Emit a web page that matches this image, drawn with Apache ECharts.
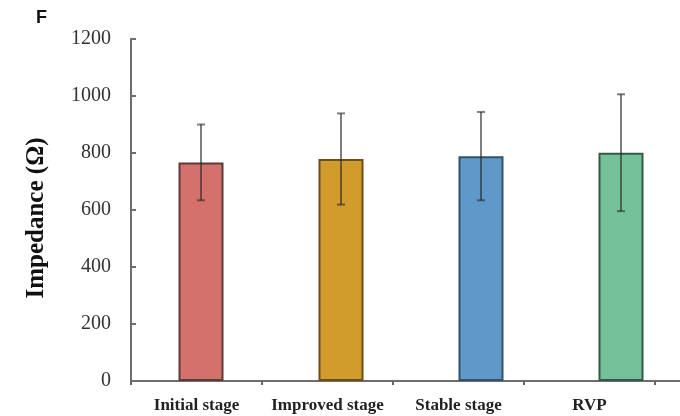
<!DOCTYPE html>
<html>
<head>
<meta charset="utf-8">
<script src="https://cdn.jsdelivr.net/npm/echarts@6/dist/echarts.min.js"></script>
<style>
  html, body { margin: 0; padding: 0; background: #fff; }
  #chart { width: 680px; height: 416px; }
</style>
</head>
<body>
<div id="chart"></div>
<script>
// Impedance by stage: mean with ± error
const categories = ['Initial stage', 'Improved stage', 'Stable stage', 'RVP'];
const impedanceMean = [767, 779, 789, 801];
const impedanceErr = [133, 160, 155, 205];
const barColors = ['#d5716c', '#d29c2c', '#5f99c9', '#75c197'];
const barBorders = ['#5c3a36', '#6a4e1c', '#34506a', '#345a46'];
const yTicks = { min: 0, max: 1200, interval: 200 };

const serif = '"Liberation Serif", "Times New Roman", serif';

const barData = impedanceMean.map((v, i) => ({
  value: v,
  itemStyle: { color: barColors[i], borderColor: barBorders[i], borderWidth: 2 }
}));
const errData = impedanceMean.map((v, i) => [i, v - impedanceErr[i], v + impedanceErr[i]]);

const chart = echarts.init(document.getElementById('chart'), null, { renderer: 'canvas' });
chart.setOption({
  animation: false,
  backgroundColor: '#ffffff',
  graphic: [{
    type: 'text', left: 36, top: 9,
    style: { text: 'F', font: 'bold 18px "Liberation Sans", Arial, sans-serif', fill: '#111' }
  }],
  grid: [
    { left: 131, top: 39, bottom: 35, width: 524, outerBoundsMode: 'none' },
    { left: 131, top: 39, bottom: 35, width: 560, outerBoundsMode: 'none' }
  ],
  xAxis: [
    {
      type: 'category', gridIndex: 0, data: categories,
      axisLine: { show: false },
      axisTick: { show: true, interval: 0, length: 4, lineStyle: { color: '#666', width: 2 } },
      axisLabel: { interval: 0, hideOverlap: false, color: '#222', fontFamily: serif, fontWeight: 'bold', fontSize: 17, margin: 16 }
    },
    {
      type: 'category', gridIndex: 1, data: categories,
      axisLine: { show: true, lineStyle: { color: '#6e6e6e', width: 2 } },
      axisTick: { show: false },
      axisLabel: { show: false }
    }
  ],
  yAxis: [
    {
      type: 'value', gridIndex: 1, min: yTicks.min, max: yTicks.max, interval: yTicks.interval,
      name: 'Impedance (Ω)', nameLocation: 'middle', nameGap: 82,
      nameTextStyle: { color: '#111', fontFamily: serif, fontWeight: 'bold', fontSize: 25, padding: [0, 16, 0, 0] },
      axisLine: { show: true, lineStyle: { color: '#6e6e6e', width: 2 } },
      axisTick: { show: true, inside: true, length: 5, lineStyle: { color: '#6e6e6e', width: 2 } },
      axisLabel: { color: '#333', fontFamily: serif, fontSize: 20, margin: 20, formatter: (v) => String(v) },
      splitLine: { show: false }
    },
    {
      type: 'value', gridIndex: 0, min: yTicks.min, max: yTicks.max, show: false,
      splitLine: { show: false }
    }
  ],
  series: [
    {
      type: 'bar', xAxisIndex: 1, yAxisIndex: 0,
      barWidth: 45, data: barData
    },
    {
      type: 'custom', xAxisIndex: 1, yAxisIndex: 0, z: 5,
      data: errData,
      renderItem: function (params, api) {
        const x = api.value(0);
        const lo = api.coord([x, api.value(1)]);
        const hi = api.coord([x, api.value(2)]);
        const cap = 4;
        const style = { stroke: 'rgba(40,40,40,0.6)', lineWidth: 2 };
        return {
          type: 'group',
          children: [
            { type: 'line', shape: { x1: hi[0], y1: hi[1], x2: lo[0], y2: lo[1] }, style: style },
            { type: 'line', shape: { x1: hi[0] - cap, y1: hi[1], x2: hi[0] + cap, y2: hi[1] }, style: style },
            { type: 'line', shape: { x1: lo[0] - cap, y1: lo[1], x2: lo[0] + cap, y2: lo[1] }, style: style }
          ]
        };
      }
    }
  ]
});
</script>
</body>
</html>
